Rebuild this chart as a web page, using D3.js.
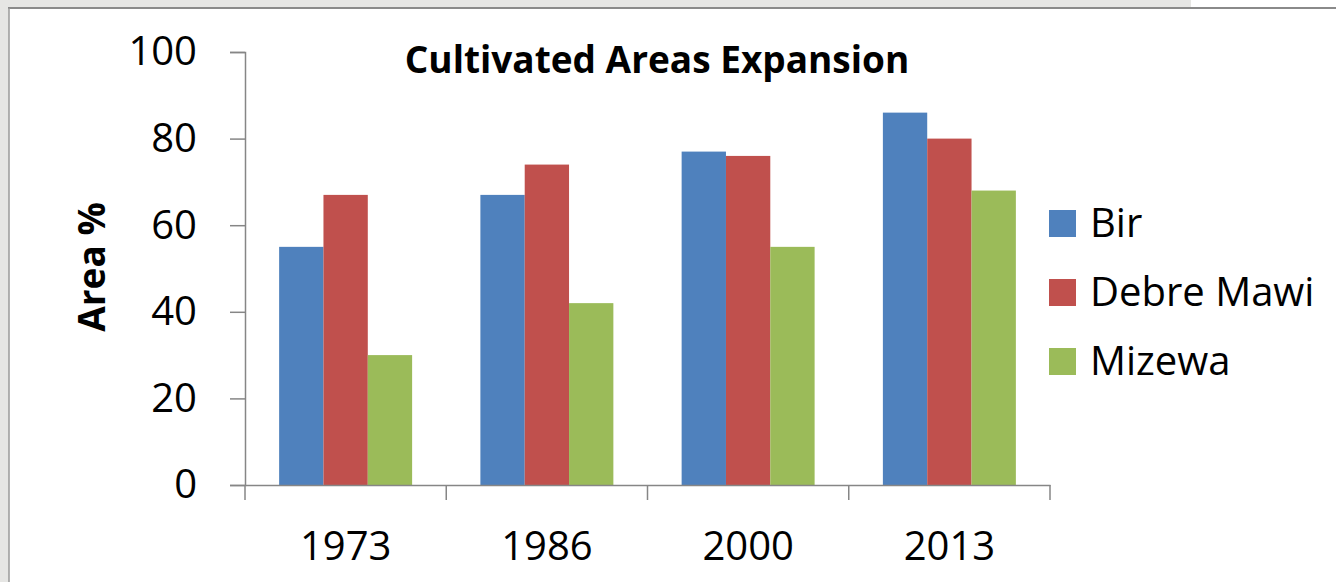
<!DOCTYPE html>
<html>
<head>
<meta charset="utf-8">
<script src="https://cdn.jsdelivr.net/npm/d3@7"></script>
<style>
  body { margin: 0; background: #e6e6e4; }
  svg { display: block; }
</style>
</head>
<body>
<div id="chart"></div>
<script>
// chart values
var years = ["1973", "1986", "2000", "2013"];
var seriesNames = ["Bir", "Debre Mawi", "Mizewa"];
var bir = [55, 67, 77, 86];
var debreMawi = [67, 74, 76, 80];
var mizewa = [30, 42, 55, 68];
var yTicks = [0, 20, 40, 60, 80, 100];
var colors = ["#4f81bd", "#c0504d", "#9bbb59"];

var seriesValues = [bir, debreMawi, mizewa];

var w = 1336, h = 582;
var margin = {left: 245, right: 286, top: 52, bottom: 97};

var svg = d3.select("#chart").append("svg")
    .attr("width", w)
    .attr("height", h);

// frame: grey page with white chart area
svg.append("rect").attr("x", 0).attr("y", 0).attr("width", w).attr("height", h).attr("fill", "#e6e6e4");
svg.append("rect").attr("x", 1191).attr("y", 0).attr("width", w - 1191).attr("height", 8).attr("fill", "#fff");
svg.append("rect").attr("x", 9).attr("y", 8).attr("width", w - 9).attr("height", h - 8).attr("fill", "#fff");
svg.append("line").attr("x1", 8).attr("x2", w).attr("y1", 8).attr("y2", 8)
    .attr("stroke", "#8a8a8a").attr("stroke-width", 2);
svg.append("line").attr("x1", 9).attr("x2", 9).attr("y1", 8).attr("y2", h)
    .attr("stroke", "#9a9a9a").attr("stroke-width", 1.5);

var graphWidth = w - margin.left - margin.right;
var graphHeight = h - margin.top - margin.bottom;

var g = svg.append("g")
    .attr("transform", "translate(" + margin.left + "," + margin.top + ")");

var x = d3.scaleBand().domain(years).range([0, graphWidth]).paddingInner(0).paddingOuter(0);
var x1 = d3.scaleBand().domain(seriesNames).range([0, x.bandwidth()]).paddingOuter(0.77).paddingInner(0);
var y = d3.scaleLinear().domain([0, 100]).range([graphHeight, 0]);

var font = "'Open Sans', 'DejaVu Sans', sans-serif";

// bars
var groups = g.selectAll("g.year")
    .data(years)
    .enter().append("g")
    .attr("class", "year")
    .attr("transform", function(d) { return "translate(" + x(d) + ",0)"; });

groups.selectAll("rect")
    .data(function(d, i) {
        return seriesNames.map(function(s, j) { return {name: s, value: seriesValues[j][i], idx: j}; });
    })
    .enter().append("rect")
    .attr("x", function(d) { return x1(d.name); })
    .attr("y", function(d) { return y(d.value); })
    .attr("width", x1.bandwidth())
    .attr("height", function(d) { return graphHeight - y(d.value); })
    .attr("fill", function(d) { return colors[d.idx]; });

// y axis
var yax = g.append("g")
    .call(d3.axisLeft(y).tickValues(yTicks).tickSize(15).tickPadding(33));
yax.selectAll("path").attr("stroke", "#868686").attr("stroke-width", 1.5);
yax.selectAll("line").attr("stroke", "#868686").attr("stroke-width", 1.5);
yax.selectAll("text").attr("font-family", font).attr("font-size", 40).attr("fill", "#000");

// x axis with tick marks at group boundaries
var xax = g.append("g")
    .attr("transform", "translate(0," + graphHeight + ")")
    .call(d3.axisBottom(x).tickSize(0).tickPadding(47).tickSizeOuter(0));
xax.select("path").attr("stroke", "#868686").attr("stroke-width", 1.5);
xax.selectAll("text").attr("font-family", font).attr("font-size", 40).attr("fill", "#000");
xax.selectAll("line.boundary")
    .data(years.concat(["end"]))
    .enter().append("line")
    .attr("class", "boundary")
    .attr("x1", function(d, i) { return i < years.length ? x(d) : graphWidth; })
    .attr("x2", function(d, i) { return i < years.length ? x(d) : graphWidth; })
    .attr("y1", 0).attr("y2", 15)
    .attr("stroke", "#868686").attr("stroke-width", 1.5);

// titles
svg.append("text")
    .attr("x", 657).attr("y", 73)
    .attr("text-anchor", "middle")
    .attr("font-family", font).attr("font-weight", "bold").attr("font-size", 37)
    .text("Cultivated Areas Expansion");

svg.append("text")
    .attr("transform", "translate(105,267) rotate(-90)")
    .attr("text-anchor", "middle")
    .attr("font-family", font).attr("font-weight", "bold").attr("font-size", 37)
    .text("Area %");

// legend
var legend = svg.selectAll("g.legend")
    .data(seriesNames)
    .enter().append("g")
    .attr("class", "legend")
    .attr("transform", function(d, i) { return "translate(1049," + (210 + i * 69) + ")"; });
legend.append("rect")
    .attr("width", 27).attr("height", 27)
    .attr("fill", function(d, i) { return colors[i]; });
legend.append("text")
    .attr("x", 41).attr("y", 27)
    .attr("font-family", font).attr("font-size", 40)
    .text(function(d) { return d; });
</script>
</body>
</html>
